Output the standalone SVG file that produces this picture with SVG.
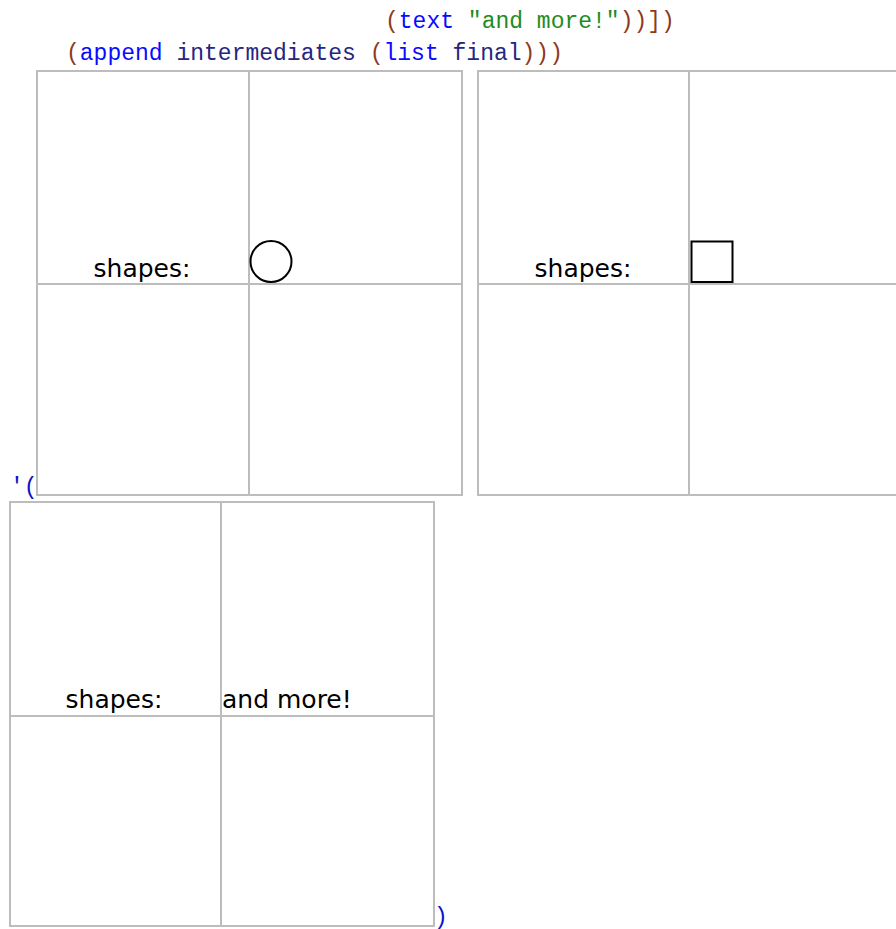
<svg xmlns="http://www.w3.org/2000/svg" width="896" height="929" viewBox="0 0 896 929">
<style>
.code{font-family:"Liberation Mono","DejaVu Sans Mono",monospace;font-size:23px}
.p{fill:#8b3a1e}.k{fill:#0a0aff}.v{fill:#262680}.s{fill:#228b22}.q{fill:#1010c8}
.frame{fill:#fff;stroke:#bdbdbd;stroke-width:2}
.grid{stroke:#bdbdbd;stroke-width:2}
.lbl{font-family:"DejaVu Sans",sans-serif;font-size:25px;fill:#000}
.shape{fill:none;stroke:#000;stroke-width:2}
</style>
<rect width="896" height="929" fill="#fff"/>
<g id="code">
<text class="code" x="385" y="28"><tspan class="p">(</tspan><tspan class="k">text</tspan><tspan class="s"> "and more!"</tspan><tspan class="p">))])</tspan></text>
<text class="code" x="66" y="60"><tspan class="p">(</tspan><tspan class="k">append</tspan><tspan class="v"> intermediates </tspan><tspan class="p">(</tspan><tspan class="k">list</tspan><tspan class="v"> final</tspan><tspan class="p">)))</tspan></text>
<text class="code q" x="10" y="494">'(</text>
<text class="code q" x="434" y="924">)</text>
</g>
<g id="frame1">
<rect class="frame" x="37" y="71" width="425" height="424"/>
<line class="grid" x1="249" y1="71" x2="249" y2="495"/>
<line class="grid" x1="37" y1="284" x2="462" y2="284"/>
<text class="lbl" x="142" y="277" text-anchor="middle">shapes:</text>
<circle class="shape" cx="271" cy="261.5" r="20.5"/>
</g>
<g id="frame2">
<rect class="frame" x="478" y="71" width="425" height="424"/>
<line class="grid" x1="689" y1="71" x2="689" y2="495"/>
<line class="grid" x1="478" y1="284" x2="903" y2="284"/>
<text class="lbl" x="583" y="277" text-anchor="middle">shapes:</text>
<rect class="shape" x="691.5" y="241.5" width="41" height="40.5"/>
</g>
<g id="frame3">
<rect class="frame" x="10" y="502" width="424" height="424"/>
<line class="grid" x1="221" y1="502" x2="221" y2="926"/>
<line class="grid" x1="10" y1="716" x2="434" y2="716"/>
<text class="lbl" x="114" y="708" text-anchor="middle">shapes:</text>
<text class="lbl" x="222" y="708">and more!</text>
</g>
<g id="connectors"/>
</svg>
